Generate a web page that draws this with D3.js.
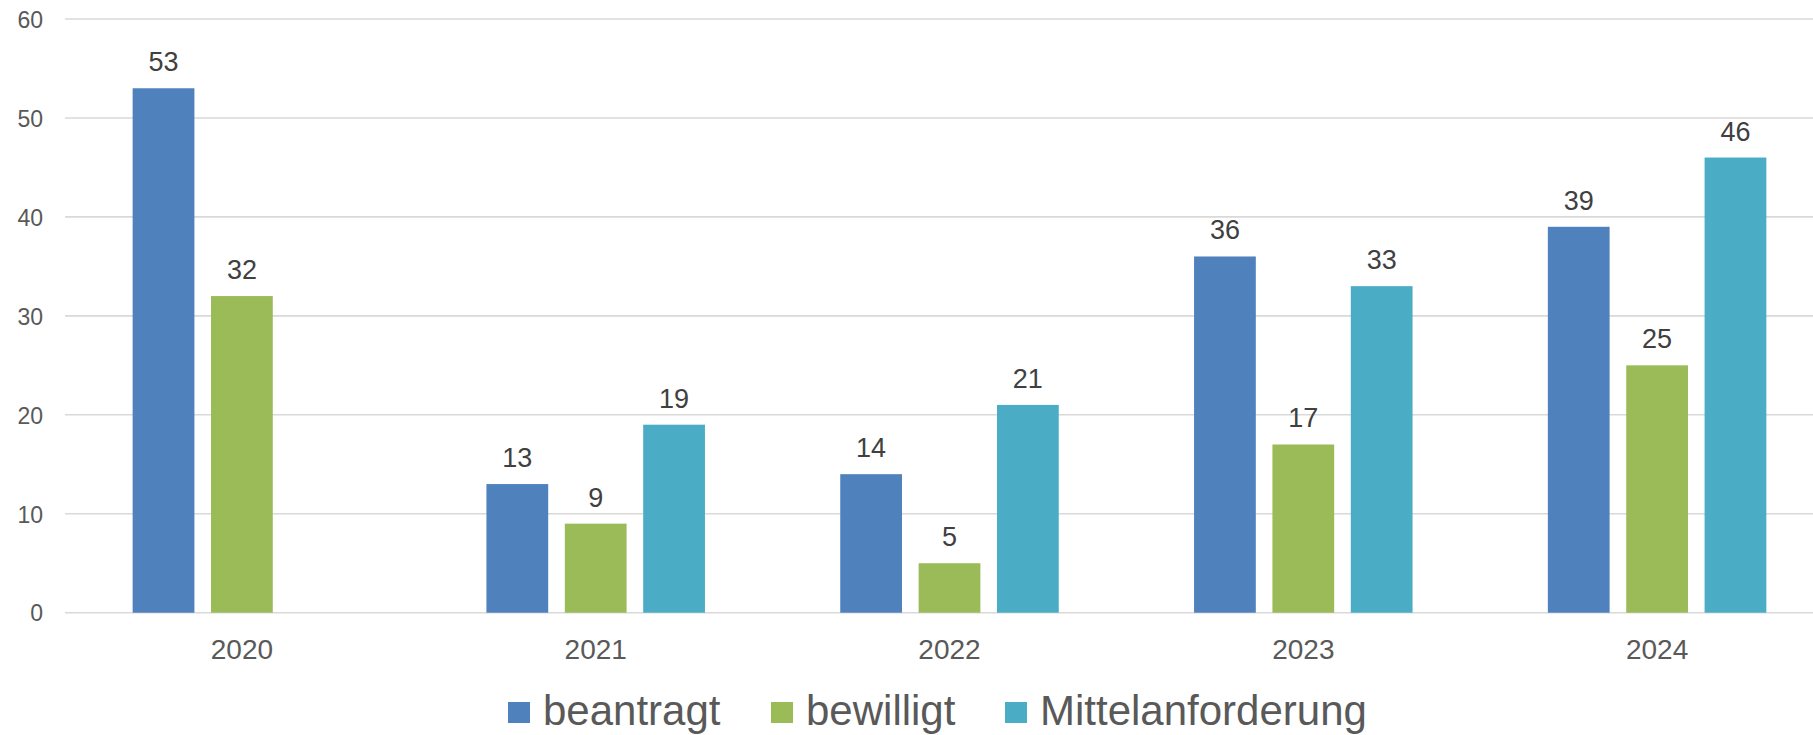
<!DOCTYPE html>
<html>
<head>
<meta charset="utf-8">
<script src="https://cdn.jsdelivr.net/npm/d3@7"></script>
<style>
  html, body { margin: 0; padding: 0; background: #fff; }
  svg { display: block; font-family: "Liberation Sans", Arial, sans-serif; }
</style>
</head>
<body>
<svg id="chart" width="1813" height="735"></svg>
<script>
// Jahre und Werte je Reihe (null = kein Wert)
const years = ["2020", "2021", "2022", "2023", "2024"];
const seriesNames = ["beantragt", "bewilligt", "Mittelanforderung"];
const beantragt = [53, 13, 14, 36, 39];
const bewilligt = [32, 9, 5, 17, 25];
const mittelanforderung = [null, 19, 21, 33, 46];
const yTicks = [0, 10, 20, 30, 40, 50, 60];
const colors = ["#4F81BD", "#9BBB59", "#4BACC6"];

const seriesValues = [beantragt, bewilligt, mittelanforderung];

const svg = d3.select("#chart");

const plotLeft = 65, plotRight = 1834;
const yTop = 19, yZero = 612.7;

const x = d3.scaleBand().domain(years).range([plotLeft, plotRight]).padding(0);
const groupHalf = 109.25;
const xInner = d3.scaleBand().domain(seriesNames)
  .range([-groupHalf, groupHalf]).paddingInner(0.212).paddingOuter(0);
const y = d3.scaleLinear().domain([0, 60]).range([yZero, yTop]);

// Gitterlinien
const grid = svg.append("g");
grid.selectAll("line").data(yTicks).join("line")
  .attr("x1", plotLeft).attr("x2", 1813)
  .attr("y1", d => y(d)).attr("y2", d => y(d))
  .attr("stroke", "#D9D9D9").attr("stroke-width", 1.6);

// y-Achse
const yAxis = svg.append("g")
  .attr("transform", `translate(${plotLeft - 22},0)`)
  .call(d3.axisLeft(y).tickValues(yTicks).tickSize(0).tickPadding(0).tickFormat(d3.format("d")));
yAxis.select(".domain").remove();
yAxis.selectAll("text")
  .attr("fill", "#595959").attr("font-size", 23)
  .attr("font-family", "'Liberation Sans', Arial, sans-serif")
  .attr("dy", "0.36em");

// x-Achse
const xAxis = svg.append("g")
  .attr("transform", `translate(0,${yZero})`)
  .call(d3.axisBottom(x).tickSize(0).tickPadding(0));
xAxis.select(".domain").remove();
xAxis.selectAll("text")
  .attr("fill", "#595959").attr("font-size", 28)
  .attr("font-family", "'Liberation Sans', Arial, sans-serif")
  .attr("y", 46).attr("dy", 0);

// Balken und Wertbeschriftungen
const rows = [];
years.forEach((yr, i) => {
  seriesNames.forEach((s, j) => {
    const v = seriesValues[j][i];
    if (v !== null) rows.push({ year: yr, series: s, value: v, color: colors[j] });
  });
});

const bars = svg.append("g");
bars.selectAll("rect").data(rows).join("rect")
  .attr("x", d => x(d.year) + x.bandwidth() / 2 + xInner(d.series))
  .attr("width", xInner.bandwidth())
  .attr("y", d => y(d.value))
  .attr("height", d => y(0) - y(d.value))
  .attr("fill", d => d.color);

svg.append("g").selectAll("text").data(rows).join("text")
  .attr("x", d => x(d.year) + x.bandwidth() / 2 + xInner(d.series) + xInner.bandwidth() / 2)
  .attr("y", d => y(d.value) - 17)
  .attr("text-anchor", "middle")
  .attr("font-size", 27)
  .attr("fill", "#404040")
  .text(d => d.value);

// Legende
const legendX = [508, 771, 1005];
const legend = svg.append("g");
seriesNames.forEach((s, j) => {
  legend.append("rect")
    .attr("x", legendX[j]).attr("y", 702)
    .attr("width", 22).attr("height", 21)
    .attr("fill", colors[j]);
  legend.append("text")
    .attr("x", legendX[j] + 35).attr("y", 725)
    .attr("font-size", 42).attr("fill", "#595959")
    .text(s);
});
</script>
</body>
</html>
